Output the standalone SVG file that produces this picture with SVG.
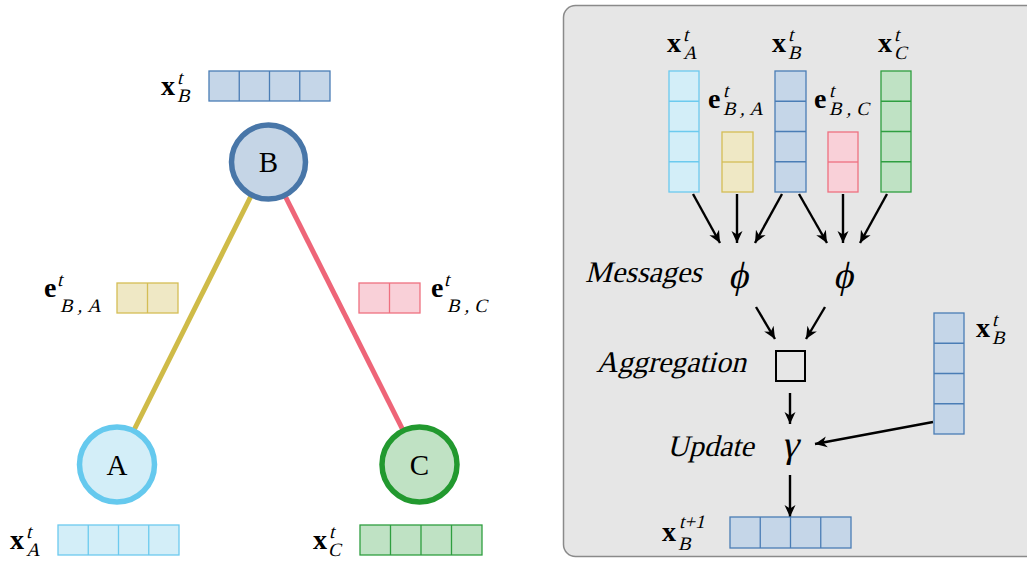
<svg xmlns="http://www.w3.org/2000/svg" width="1027" height="561" viewBox="0 0 1027 561">
<defs>
<style>
.bx{font-family:"Liberation Serif",serif;font-weight:bold;font-size:28px;fill:#000}
.sp{font-family:"Liberation Serif",serif;font-size:19px;fill:#000}
.nl{font-family:"Liberation Serif",serif;font-size:29px;fill:#000;text-anchor:middle}
.it{font-family:"Liberation Serif",serif;font-size:30px;fill:#000}
.gk{font-family:"Liberation Serif","DejaVu Serif",serif;font-size:38px;fill:#000;text-anchor:middle}
.vb{fill:#c5d6e8;stroke:#4a7db5;stroke-width:1.3}
.vl{fill:#d3eef8;stroke:#6ccaee;stroke-width:1.3}
.vy{fill:#efe8c5;stroke:#d4bd55;stroke-width:1.3}
.vp{fill:#f9d0d8;stroke:#ee7080;stroke-width:1.3}
.vg{fill:#bfe2c4;stroke:#2f9e40;stroke-width:1.3}
.arr{stroke:#000;stroke-width:2.4;fill:none;marker-end:url(#ah)}
</style>
<marker id="ah" markerUnits="userSpaceOnUse" markerWidth="14" markerHeight="14" viewBox="0 0 14 14" refX="12" refY="7" orient="auto">
<path d="M0,1.5 L12,7 L0,12.5 L3.5,7 Z" fill="#000"/>
</marker>
</defs>

<rect id="panel" x="563.5" y="5.5" width="480" height="551" rx="12" fill="#e6e6e6" stroke="#8a8a8a" stroke-width="1.5"/>

<g id="connectors">
<line x1="268" y1="162" x2="117" y2="464" stroke="#cfbb48" stroke-width="5"/>
<line x1="268" y1="162" x2="420" y2="464" stroke="#ee6578" stroke-width="5"/>
<line class="arr" x1="693" y1="194" x2="720" y2="243"/>
<line class="arr" x1="737" y1="194" x2="737" y2="243"/>
<line class="arr" x1="782" y1="194" x2="755" y2="243"/>
<line class="arr" x1="799" y1="194" x2="827" y2="243"/>
<line class="arr" x1="843" y1="194" x2="843" y2="243"/>
<line class="arr" x1="887" y1="194" x2="860" y2="243"/>
<line class="arr" x1="756" y1="307" x2="775" y2="339"/>
<line class="arr" x1="825" y1="307" x2="806" y2="339"/>
<line class="arr" x1="790" y1="393" x2="790" y2="424"/>
<line class="arr" x1="933" y1="422" x2="815" y2="444"/>
<line class="arr" x1="790" y1="475" x2="790" y2="517"/>
</g>

<g id="nodeB">
<circle cx="268.5" cy="162" r="37" fill="#c5d5e6" stroke="#4876a8" stroke-width="5.5"/>
<text class="nl" x="268.5" y="172">B</text>
</g>
<g id="nodeA">
<circle cx="117" cy="464.5" r="37.5" fill="#d3eef8" stroke="#65c9ee" stroke-width="5.5"/>
<text class="nl" x="117" y="475">A</text>
</g>
<g id="nodeC">
<circle cx="419.5" cy="464.5" r="37.5" fill="#c0e2c4" stroke="#22992f" stroke-width="5.5"/>
<text class="nl" x="419.5" y="475">C</text>
</g>

<g id="vecB_left">
<rect class="vb" x="209" y="71" width="121" height="30"/>
<path class="vb" d="M239.25,71V101M269.5,71V101M299.75,71V101"/>
<text class="bx" x="161" y="95">x</text>
<text class="sp" transform="translate(177,84) skewX(-14)">t</text>
<text class="sp" transform="translate(177,102) skewX(-14)">B</text>
</g>
<g id="vecEBA_left">
<rect class="vy" x="117" y="283" width="61" height="30"/>
<path class="vy" d="M147.5,283V313"/>
<text class="bx" x="44" y="297">e</text>
<text class="sp" transform="translate(57,286) skewX(-14)">t</text>
<text class="sp" transform="translate(60,312) skewX(-14)" textLength="41" lengthAdjust="spacing">B,A</text>
</g>
<g id="vecEBC_left">
<rect class="vp" x="359" y="283" width="61" height="30"/>
<path class="vp" d="M389.5,283V313"/>
<text class="bx" x="431" y="297">e</text>
<text class="sp" transform="translate(444,286) skewX(-14)">t</text>
<text class="sp" transform="translate(447,312) skewX(-14)" textLength="40" lengthAdjust="spacing">B,C</text>
</g>
<g id="vecA_left">
<rect class="vl" x="58" y="525" width="121" height="30"/>
<path class="vl" d="M88.25,525V555M118.5,525V555M148.75,525V555"/>
<text class="bx" x="10" y="549">x</text>
<text class="sp" transform="translate(26,538) skewX(-14)">t</text>
<text class="sp" transform="translate(26,556) skewX(-14)">A</text>
</g>
<g id="vecC_left">
<rect class="vg" x="360" y="525" width="122" height="30"/>
<path class="vg" d="M390.5,525V555M421,525V555M451.5,525V555"/>
<text class="bx" x="313" y="549">x</text>
<text class="sp" transform="translate(329,538) skewX(-14)">t</text>
<text class="sp" transform="translate(328,556) skewX(-14)">C</text>
</g>

<g id="vecA_right">
<rect class="vl" x="669" y="71" width="30" height="121"/>
<path class="vl" d="M669,101.25H699M669,131.5H699M669,161.75H699"/>
<text class="bx" x="667" y="52">x</text>
<text class="sp" transform="translate(683,41) skewX(-14)">t</text>
<text class="sp" transform="translate(683,59) skewX(-14)">A</text>
</g>
<g id="vecEBA_right">
<rect class="vy" x="722" y="132" width="31" height="60"/>
<path class="vy" d="M722,162H753"/>
<text class="bx" x="708" y="108">e</text>
<text class="sp" transform="translate(723,97) skewX(-14)">t</text>
<text class="sp" transform="translate(723,115) skewX(-14)" textLength="40" lengthAdjust="spacing">B,A</text>
</g>
<g id="vecB_right">
<rect class="vb" x="775" y="71" width="31" height="121"/>
<path class="vb" d="M775,101.25H806M775,131.5H806M775,161.75H806"/>
<text class="bx" x="772" y="52">x</text>
<text class="sp" transform="translate(788,41) skewX(-14)">t</text>
<text class="sp" transform="translate(788,59) skewX(-14)">B</text>
</g>
<g id="vecEBC_right">
<rect class="vp" x="828" y="132" width="30" height="60"/>
<path class="vp" d="M828,162H858"/>
<text class="bx" x="814" y="108">e</text>
<text class="sp" transform="translate(829,97) skewX(-14)">t</text>
<text class="sp" transform="translate(829,115) skewX(-14)" textLength="40" lengthAdjust="spacing">B,C</text>
</g>
<g id="vecC_right">
<rect class="vg" x="881" y="71" width="30" height="121"/>
<path class="vg" d="M881,101.25H911M881,131.5H911M881,161.75H911"/>
<text class="bx" x="878" y="52">x</text>
<text class="sp" transform="translate(894,41) skewX(-14)">t</text>
<text class="sp" transform="translate(894,59) skewX(-14)">C</text>
</g>
<g id="vecB_update">
<rect class="vb" x="934" y="313" width="30" height="121"/>
<path class="vb" d="M934,343.25H964M934,373.5H964M934,403.75H964"/>
<text class="bx" x="976" y="337">x</text>
<text class="sp" transform="translate(992,326) skewX(-14)">t</text>
<text class="sp" transform="translate(992,344) skewX(-14)">B</text>
</g>
<g id="vecB_out">
<rect class="vb" x="730" y="517" width="121" height="31"/>
<path class="vb" d="M760.25,517V548M790.5,517V548M820.75,517V548"/>
<text class="bx" x="662" y="541">x</text>
<text class="sp" transform="translate(679,528) skewX(-14)">t+1</text>
<text class="sp" transform="translate(678,550) skewX(-14)">B</text>
</g>

<g id="messages">
<text class="it" transform="translate(585,282) skewX(-14)">Messages</text>
<text class="gk" transform="translate(738,288) skewX(-12)">ϕ</text>
<text class="gk" transform="translate(843,288) skewX(-12)">ϕ</text>
</g>
<g id="aggregation">
<text class="it" transform="translate(596,372) skewX(-14)">Aggregation</text>
<rect x="776" y="351" width="29" height="30" fill="none" stroke="#000" stroke-width="2"/>
</g>
<g id="update">
<text class="it" transform="translate(667,456) skewX(-14)">Update</text>
<text class="gk" transform="translate(790,457) skewX(-12)">γ</text>
</g>
</svg>
